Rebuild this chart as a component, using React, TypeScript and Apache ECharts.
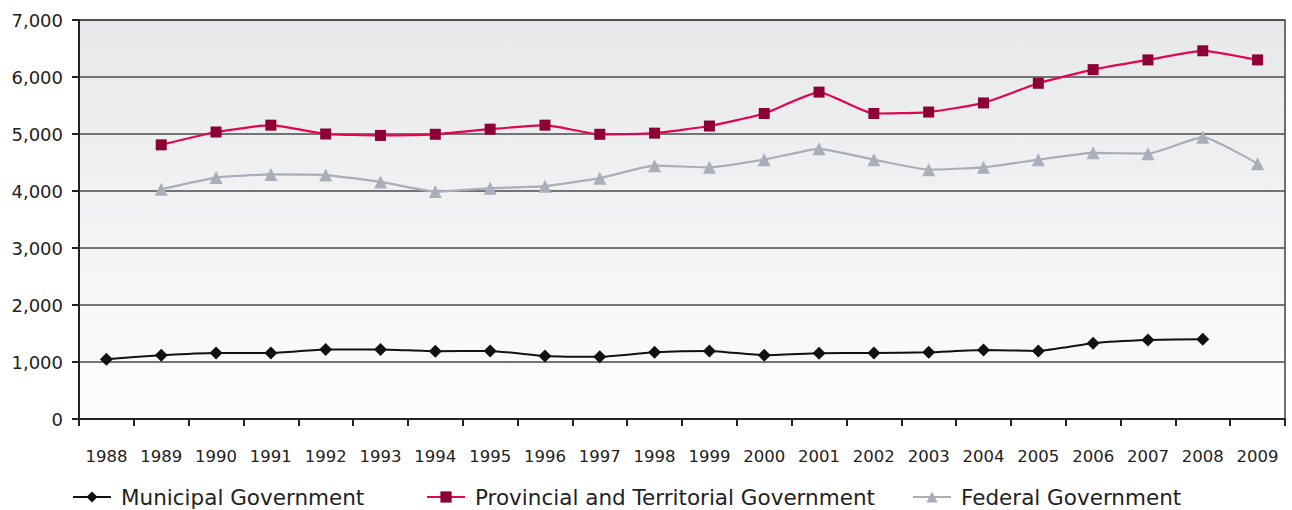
import React, { useEffect, useRef } from "react";
import * as echarts from "echarts";

const years = ["1988","1989","1990","1991","1992","1993","1994","1995","1996","1997","1998","1999","2000","2001","2002","2003","2004","2005","2006","2007","2008","2009"];
const municipal = [1050,1120,1160,1160,1220,1220,1190,1195,1105,1090,1170,1195,1120,1155,1160,1170,1210,1195,1330,1385,1400,null];
const provincial = [null,4810,5035,5155,5000,4975,4995,5085,5155,4995,5015,5140,5360,5735,5360,5385,5545,5890,6130,6300,6460,6300];
const federal = [null,4030,4235,4290,4280,4160,3990,4050,4085,4225,4445,4415,4550,4740,4550,4375,4415,4550,4670,4655,4945,4480];
const yTicks = [0, 1000, 2000, 3000, 4000, 5000, 6000, 7000];

const FONT = "DejaVu Sans";

export default function App() {
  const ref = useRef<HTMLDivElement>(null);
  useEffect(() => {
    const chart = echarts.init(ref.current!, null, { renderer: "svg" });
    const legendBase = {
      top: 486,
      padding: 0,
      itemWidth: 38,
      itemHeight: 14,
      textStyle: { fontFamily: FONT, fontSize: 21.5, lineHeight: 21, color: "#222", padding: [0, 0, 0, 5] },
    };
    chart.setOption({
      animation: false,
      backgroundColor: "#fff",
      grid: {
        left: 79, right: 7, top: 20, bottom: 91,
        show: true,
        borderWidth: 1.5,
        borderColor: "#444",
        backgroundColor: new echarts.graphic.LinearGradient(0, 0, 0, 1, [
          { offset: 0, color: "#e7e8ea" },
          { offset: 1, color: "#fdfdfd" },
        ]),
      },
      legend: [
        { ...legendBase, left: 72, data: ["Municipal Government"] },
        { ...legendBase, left: 426, data: ["Provincial and Territorial Government"] },
        { ...legendBase, left: 912, data: ["Federal Government"] },
      ],
      xAxis: {
        type: "category",
        data: years,
        boundaryGap: true,
        axisLine: { lineStyle: { color: "#222", width: 2 } },
        axisTick: { show: true, interval: 0, length: 7, inside: false, lineStyle: { color: "#222", width: 2 } },
        axisLabel: { interval: 0, fontFamily: FONT, fontSize: 16.5, color: "#222", margin: 29 },
      },
      yAxis: {
        type: "value",
        min: yTicks[0],
        max: yTicks[yTicks.length - 1],
        interval: 1000,
        axisLine: { show: true, lineStyle: { color: "#222", width: 2 } },
        axisTick: { show: true, length: 7, lineStyle: { color: "#222", width: 2 } },
        axisLabel: {
          fontFamily: FONT, fontSize: 18, color: "#222", margin: 16,
          formatter: (v: number) => v.toLocaleString("en-US"),
        },
        splitLine: { show: true, lineStyle: { color: "#4a4a4a", width: 1.5 } },
      },
      series: [
        {
          name: "Municipal Government",
          type: "line",
          data: municipal,
          smooth: 0.15,
          symbol: "diamond",
          symbolSize: 13,
          lineStyle: { color: "#111", width: 2 },
          itemStyle: { color: "#111" },
          z: 3,
        },
        {
          name: "Provincial and Territorial Government",
          type: "line",
          data: provincial,
          smooth: 0.15,
          symbol: "rect",
          symbolSize: 11,
          lineStyle: { color: "#e0064f", width: 2.2 },
          itemStyle: { color: "#8c0036" },
          z: 3,
        },
        {
          name: "Federal Government",
          type: "line",
          data: federal,
          smooth: 0.15,
          symbol: "triangle",
          symbolSize: 13,
          lineStyle: { color: "#a9aeb8", width: 2.2 },
          itemStyle: { color: "#a9aeb8" },
          z: 3,
        },
      ],
    });
    return () => chart.dispose();
  }, []);
  return <div ref={ref} style={{ width: 1292, height: 510, position: "absolute", left: 0, top: 0 }} />;
}
